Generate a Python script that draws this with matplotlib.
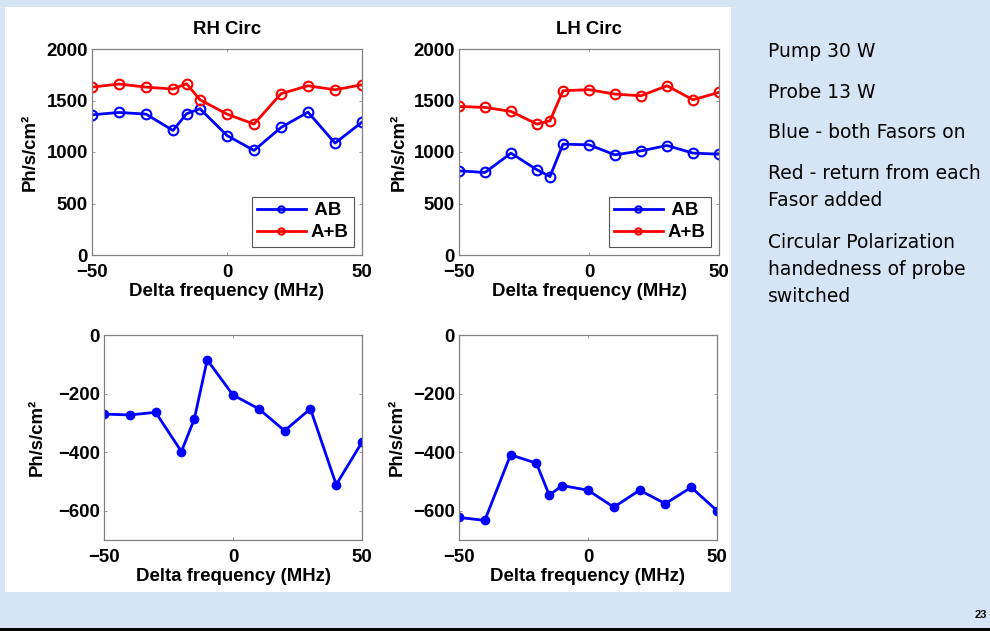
import matplotlib
matplotlib.use("Agg")
import matplotlib.pyplot as plt
from matplotlib.patches import Rectangle

plt.rcParams['font.family'] = ['Liberation Sans', 'DejaVu Sans']

freq = [-50, -40, -30, -20, -15, -10, 0, 10, 20, 30, 40, 50]

rh_ab = [1361, 1384, 1368, 1209, 1371, 1420, 1160, 1015, 1238, 1387, 1086, 1290]
rh_apb = [1630, 1660, 1630, 1611, 1663, 1507, 1368, 1271, 1566, 1643, 1604, 1653]
lh_ab = [817, 801, 989, 827, 762, 1076, 1070, 972, 1011, 1063, 989, 979]
lh_apb = [1442, 1433, 1394, 1271, 1303, 1595, 1605, 1562, 1546, 1643, 1507, 1579]
rh_diff = [-270, -273, -264, -398, -287, -85, -205, -252, -327, -252, -511, -366]
lh_diff = [-623, -633, -409, -438, -547, -514, -530, -588, -530, -576, -520, -600]

titles = ["RH Circ", "LH Circ"]
notes = ["Pump 30 W", "Probe 13 W", "Blue - both Fasors on",
         "Red - return from each\nFasor added",
         "Circular Polarization\nhandedness of probe\nswitched"]

W, H = 990, 631
FS = 13.4
fig = plt.figure(figsize=(W / 100, H / 100), dpi=100)
fig.patch.set_facecolor("#d6e5f5")

# white panel behind the plots
fig.patches.append(Rectangle((5 / W, 1 - 592 / H), 726 / W, 585 / H,
                             transform=fig.transFigure, facecolor="white",
                             edgecolor="none", zorder=-10))
# black line at bottom of slide
fig.patches.append(Rectangle((0, 0), 1, 3 / H, transform=fig.transFigure,
                             facecolor="black", edgecolor="none", zorder=-5))


def px_axes(l, t, r, b):
    return fig.add_axes([l / W, 1 - b / H, (r - l) / W, (b - t) / H])


def style(ax, ylabelpad):
    ax.set_xlim(-50, 50)
    ax.set_xticks([-50, 0, 50])
    ax.set_xticklabels(["\u221250", "0", "50"])
    ax.tick_params(direction="in", top=True, right=True, length=2.5,
                   width=0.6, labelsize=FS, color="#888888")
    ax.tick_params(axis="x", pad=6.5)
    ax.tick_params(axis="y", pad=3)
    for t in ax.get_xticklabels() + ax.get_yticklabels():
        t.set_fontweight("bold")
    for s in ax.spines.values():
        s.set_color("#808080")
        s.set_linewidth(0.9)
    ax.set_xlabel("Delta frequency (MHz)", fontsize=FS, fontweight="bold",
                  labelpad=1.5)
    ax.set_ylabel("Ph/s/cm\u00b2", fontsize=FS, fontweight="bold",
                  labelpad=ylabelpad)


top_axes = [px_axes(92, 49, 362, 255), px_axes(459, 49, 719, 255)]
bot_axes = [px_axes(104, 335, 362, 540), px_axes(459, 335, 717, 540)]

for ax, ab, apb, title, lp in zip(top_axes, [rh_ab, lh_ab], [rh_apb, lh_apb],
                                  titles, [5.5, 4]):
    ax.plot(freq, ab, color="#0000ff", lw=2, marker="o", ms=7,
            mfc="none", mew=1.5, label=" AB")
    ax.plot(freq, apb, color="#ff0000", lw=2, marker="o", ms=7,
            mfc="none", mew=1.5, label="A+B")
    ax.set_ylim(0, 2000)
    ax.set_yticks([0, 500, 1000, 1500, 2000])
    style(ax, lp)
    ax.set_title(title, fontsize=FS, fontweight="bold", pad=11)
    leg = ax.legend(loc="lower right", fontsize=FS, fancybox=False,
                    borderaxespad=0.45, handlelength=2.6, handletextpad=0.25,
                    borderpad=0.3, labelspacing=0.25, markerscale=0.65,
                    framealpha=1)
    leg.get_frame().set_edgecolor("#555555")
    leg.get_frame().set_linewidth(0.8)
    for t in leg.get_texts():
        t.set_fontweight("bold")

for ax, d, lp in zip(bot_axes, [rh_diff, lh_diff], [9, 5]):
    ax.plot(freq, d, color="#0000ff", lw=2, marker="o", ms=6)
    ax.set_ylim(-700, 0)
    ax.set_yticks([-600, -400, -200, 0])
    ax.set_yticklabels(["\u2212600", "\u2212400", "\u2212200", "0"])
    style(ax, lp)

# first-line cap centres of the notes, in pixels from the top
ys = [51, 92, 132, 174, 243]
for txt, y in zip(notes, ys):
    fig.text(768 / W, 1 - (y + 6) / H, txt, fontsize=13.5, va="baseline",
             ha="left", linespacing=1.55, color="black",
             family=["DejaVu Sans"]) if "\n" not in txt else \
        fig.text(768 / W, 1 - (y - 10) / H, txt, fontsize=13.5, va="top",
                 ha="left", linespacing=1.55, color="black",
                 family=["DejaVu Sans"])

fig.text(975 / W, 1 - 615 / H, "23", fontsize=8, fontweight="bold",
         va="center", ha="left")

fig.savefig("out.png", dpi=100, facecolor=fig.get_facecolor())
